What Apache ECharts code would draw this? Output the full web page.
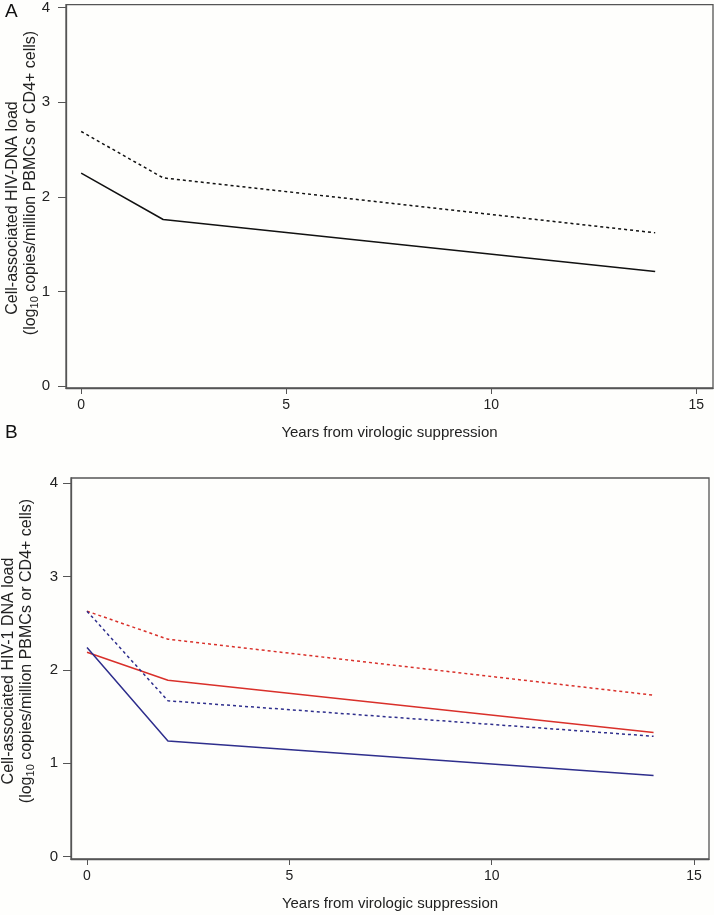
<!DOCTYPE html>
<html>
<head>
<meta charset="utf-8">
<script src="https://cdn.jsdelivr.net/npm/echarts@6/dist/echarts.min.js"></script>
<style>
html,body{margin:0;padding:0;background:#fefefc;}
#chart{width:714px;height:915px;}
</style>
</head>
<body>
<div id="chart"></div>
<script>
// ---- data ----
const years = [0, 2, 14];
const xTicks = [0, 5, 10, 15];
const yTicks = [0, 1, 2, 3, 4];
// Panel A
const aSolid = [2.25, 1.76, 1.21];
const aDashed = [2.69, 2.20, 1.62];
// Panel B
const bRedSolid = [2.19, 1.89, 1.33];
const bRedDashed = [2.63, 2.33, 1.73];
const bBlueSolid = [2.24, 1.24, 0.87];
const bBlueDashed = [2.63, 1.67, 1.29];
const xTitle = 'Years from virologic suppression';
const yTitleA = 'Cell-associated HIV-DNA load';
const yTitleB = 'Cell-associated HIV-1 DNA load';
const yTitle2 = '(log{sub|10} copies/million PBMCs or CD4+ cells)';

const pair = v => years.map((y, i) => [y, v[i]]);
const FONT = "'Liberation Sans', Arial, sans-serif";
const AX = '#555';
const RED = '#d9302a';
const BLUE = '#2e2e8c';

function xAxis(gi, min, max) {
  return {
    type: 'value', gridIndex: gi, min: min, max: max,
    name: xTitle, nameLocation: 'middle', nameGap: 37,
    nameTextStyle: {fontFamily: FONT, fontSize: 15, color: '#222'},
    axisLine: {show: true, onZero: false, lineStyle: {color: AX, width: 1.3}},
    axisTick: {show: true, length: 6, lineStyle: {color: AX}, customValues: xTicks},
    axisLabel: {fontFamily: FONT, fontSize: 14, color: '#222', margin: 10, customValues: xTicks},
    splitLine: {show: false}
  };
}
function yAxis(gi, min, max, margin) {
  return {
    type: 'value', gridIndex: gi, min: min, max: max,
    axisLine: {show: true, onZero: false, lineStyle: {color: AX, width: 1.3}},
    axisTick: {show: true, length: 8, lineStyle: {color: AX}, customValues: yTicks},
    axisLabel: {fontFamily: FONT, fontSize: 15, color: '#222', margin: margin, customValues: yTicks},
    splitLine: {show: false}
  };
}
function line(data, color, dashed, xi) {
  return {
    type: 'line', xAxisIndex: xi, yAxisIndex: xi, data: pair(data),
    symbol: 'none', silent: true, animation: false,
    lineStyle: {color: color, width: 1.5, type: dashed ? [3, 3] : 'solid'}
  };
}
function vtext(x, y, text) {
  return {
    type: 'text', x: x, y: y, rotation: Math.PI / 2,
    style: {
      text: text, align: 'center', verticalAlign: 'middle',
      font: '16px ' + FONT, fill: '#222',
      rich: {sub: {fontSize: 11, fontFamily: FONT, fill: '#222', verticalAlign: 'bottom', padding: [8, 0, 0, 0]}}
    }
  };
}

const chart = echarts.init(document.getElementById('chart'), null, {renderer: 'canvas'});
chart.setOption({
  backgroundColor: '#fefefc',
  animation: false,
  grid: [
    {left: 66, top: 3, width: 647, height: 385, show: true, borderColor: AX, borderWidth: 1.3, backgroundColor: '#fefefc'},
    {left: 71, top: 478, width: 638, height: 381, show: true, borderColor: AX, borderWidth: 1.3, backgroundColor: '#fefefc'}
  ],
  xAxis: [xAxis(0, -0.37, 15.41), xAxis(1, -0.395, 15.37)],
  yAxis: [yAxis(0, -0.02, 4.03, 16), yAxis(1, -0.025, 4.057, 13)],
  series: [
    line(aDashed, '#111', true, 0),
    line(aSolid, '#111', false, 0),
    line(bRedDashed, RED, true, 1),
    line(bRedSolid, RED, false, 1),
    line(bBlueDashed, BLUE, true, 1),
    line(bBlueSolid, BLUE, false, 1)
  ],
  graphic: [
    {type: 'text', left: 5, top: 2, style: {text: 'A', font: '19px ' + FONT, fill: '#111'}},
    {type: 'text', left: 5, top: 423, style: {text: 'B', font: '19px ' + FONT, fill: '#111'}},
    vtext(13, 208, yTitleA),
    vtext(31, 183, yTitle2),
    vtext(9, 671, yTitleB),
    vtext(27, 651, yTitle2)
  ]
});
</script>
</body>
</html>
